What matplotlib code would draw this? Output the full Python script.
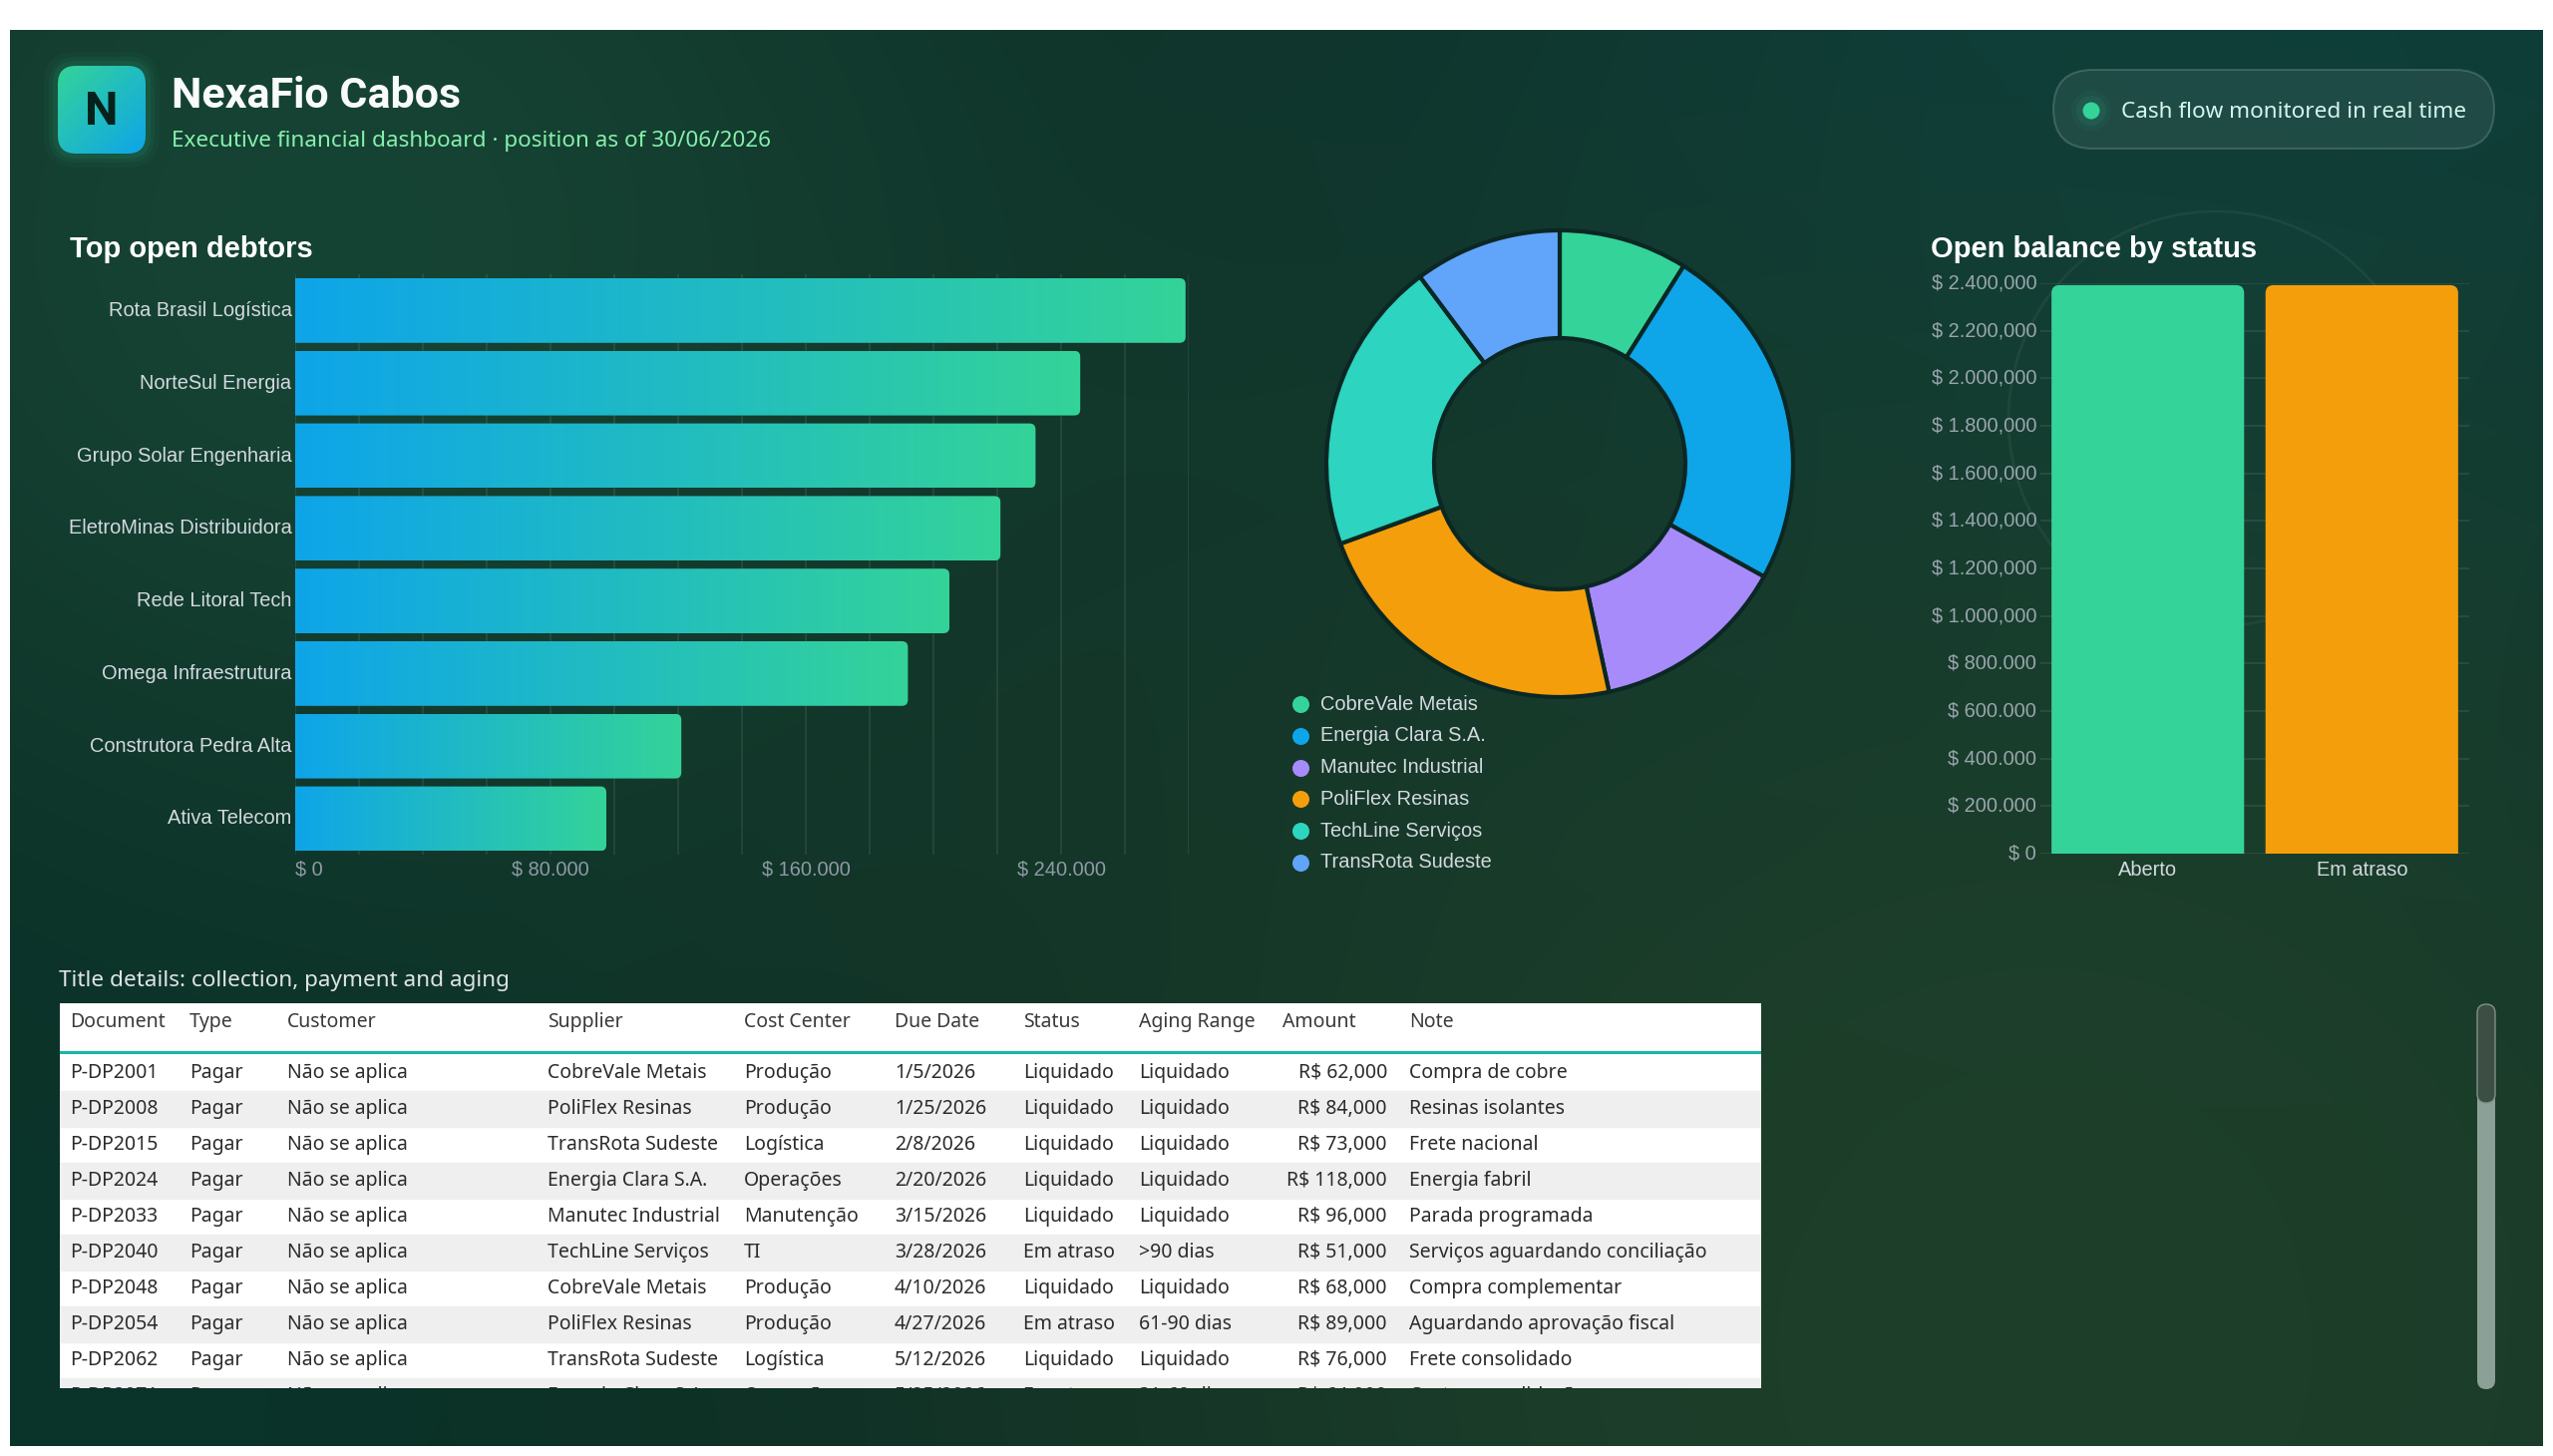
import numpy as np
import matplotlib
matplotlib.use('Agg')
import matplotlib.pyplot as plt
from matplotlib.patches import FancyBboxPatch, Circle, Rectangle
from matplotlib.colors import LinearSegmentedColormap

W, H = 2560, 1460

# ---- data ----
debtors = ['Rota Brasil Logística', 'NorteSul Energia', 'Grupo Solar Engenharia',
           'EletroMinas Distribuidora', 'Rede Litoral Tech', 'Omega Infraestrutura',
           'Construtora Pedra Alta', 'Ativa Telecom']
debtor_values = [279000, 246000, 232000, 221000, 205000, 192000, 121000, 97500]

suppliers = ['CobreVale Metais', 'Energia Clara S.A.', 'Manutec Industrial',
             'PoliFlex Resinas', 'TechLine Serviços', 'TransRota Sudeste']
supplier_totals = [130000, 352000, 198000, 333000, 297000, 149000]
supplier_colors = ['#34d399', '#0ea5e9', '#a78bfa', '#f59e0b', '#2dd4bf', '#60a5fa']

status_labels = ['Aberto', 'Em atraso']
status_values = [2392000, 2392000]
status_colors = ['#34d399', '#f59e0b']

headers = ['Document', 'Type', 'Customer', 'Supplier', 'Cost Center', 'Due Date',
           'Status', 'Aging Range', 'Amount', 'Note']
documents = ['P-DP2001', 'P-DP2008', 'P-DP2015', 'P-DP2024', 'P-DP2033',
             'P-DP2040', 'P-DP2048', 'P-DP2054', 'P-DP2062', 'P-DP2071']
types = ['Pagar'] * 10
customers = ['Não se aplica'] * 10
table_suppliers = ['CobreVale Metais', 'PoliFlex Resinas', 'TransRota Sudeste',
                   'Energia Clara S.A.', 'Manutec Industrial', 'TechLine Serviços',
                   'CobreVale Metais', 'PoliFlex Resinas', 'TransRota Sudeste',
                   'Energia Clara S.A.']
cost_centers = ['Produção', 'Produção', 'Logística', 'Operações', 'Manutenção', 'TI',
                'Produção', 'Produção', 'Logística', 'Operações']
due_dates = ['1/5/2026', '1/25/2026', '2/8/2026', '2/20/2026', '3/15/2026',
             '3/28/2026', '4/10/2026', '4/27/2026', '5/12/2026', '5/25/2026']
statuses = ['Liquidado', 'Liquidado', 'Liquidado', 'Liquidado', 'Liquidado',
            'Em atraso', 'Liquidado', 'Em atraso', 'Liquidado', 'Em atraso']
aging = ['Liquidado', 'Liquidado', 'Liquidado', 'Liquidado', 'Liquidado',
         '>90 dias', 'Liquidado', '61-90 dias', 'Liquidado', '31-60 dias']
amounts = [62000, 84000, 73000, 118000, 96000, 51000, 68000, 89000, 76000, 64000]
notes = ['Compra de cobre', 'Resinas isolantes', 'Frete nacional', 'Energia fabril',
         'Parada programada', 'Serviços aguardando conciliação', 'Compra complementar',
         'Aguardando aprovação fiscal', 'Frete consolidado', 'Custo em validação']

plt.rcParams['font.family'] = ['Liberation Sans', 'DejaVu Sans']
UI = ['Noto Sans', 'DejaVu Sans']
UI_BOLD = ['Roboto', 'DejaVu Sans']


def px2fig(x0, y0, x1, y1):
    return [x0 / W, 1 - y1 / H, (x1 - x0) / W, (y1 - y0) / H]


fig = plt.figure(figsize=(W / 100, H / 100), dpi=100, facecolor='white')
bg = fig.add_axes([0, 0, 1, 1])
bg.axis('off')

# background gradient made of soft blobs
gy, gx = np.mgrid[30:1450:6, 10:2550:6]
col = np.ones(gx.shape + (3,)) * np.array([12, 42, 34]) / 255
blobs = [((330, 260), 520, (22, 68, 52)),
         ((2250, 80), 650, (10, 62, 62)),
         ((2050, 1350), 800, (30, 64, 42)),
         ((0, 1460), 450, (10, 52, 42))]
for (cx, cy), sig, c in blobs:
    w = np.exp(-((gx - cx) ** 2 + (gy - cy) ** 2) / (2 * sig ** 2))[..., None]
    col = col * (1 - w) + np.array(c) / 255 * w
bg.imshow(col, extent=(10, 2550, 1450, 30), aspect='auto', interpolation='bicubic', zorder=0)
bg.set_xlim(0, W)
bg.set_ylim(H, 0)

bg.add_patch(Circle((2222, 420), 208, fill=False, edgecolor='white', alpha=0.05, lw=2))

# ---- header ----
for k, a in [(14, 0.04), (9, 0.06), (5, 0.08)]:
    bg.add_patch(FancyBboxPatch((58 - k, 66 - k), 88 + 2 * k, 88 + 2 * k,
                                boxstyle=f'round,pad=0,rounding_size={18 + k}',
                                facecolor=(0.2, 0.83, 0.6, a), edgecolor='none'))
logo = FancyBboxPatch((58, 66), 88, 88, boxstyle='round,pad=0,rounding_size=18',
                      facecolor='none', edgecolor='none')
bg.add_patch(logo)
lg = np.linspace(0, 1, 64)
logo_grad = (lg[None, :] + lg[:, None]) / 2
logo_cmap = LinearSegmentedColormap.from_list('logo', ['#34d399', '#0ea5e9'])
im = bg.imshow(logo_grad, cmap=logo_cmap, extent=(58, 146, 154, 66), aspect='auto',
               interpolation='bicubic', zorder=2)
im.set_clip_path(logo)
bg.text(102, 112, 'N', family=UI_BOLD, weight='bold', fontsize=34, color='#04221b',
        ha='center', va='center', zorder=3)
bg.text(172, 108, 'NexaFio Cabos', family=UI_BOLD, weight='bold', fontsize=31,
        color='#f8fafc', va='baseline')
bg.text(172, 142, 'Executive financial dashboard · position as of 30/06/2026',
        family=UI, fontsize=16.2, color='#86efac', va='center')

# status pill
bg.add_patch(FancyBboxPatch((2059, 70), 442, 79, boxstyle='round,pad=0,rounding_size=39.5',
                            facecolor=(1, 1, 1, 0.07), edgecolor=(1, 1, 1, 0.16), lw=1.5))
for rr, a in [(20, 0.05), (15, 0.08)]:
    bg.add_patch(Circle((2097, 111), rr, color=(0.2, 0.83, 0.6, a), lw=0))
bg.add_patch(Circle((2097, 111), 8.5, color='#34d399', lw=0))
bg.text(2127, 112, 'Cash flow monitored in real time', family=UI, fontsize=16.2,
        color='#d3f5ee', va='center')

# chart titles
bg.text(70, 250, 'Top open debtors', fontsize=21, weight='bold', color='white', va='center')
bg.text(1936, 250, 'Open balance by status', fontsize=21, weight='bold', color='white',
        va='center')

# ---- top debtors (horizontal gradient bars) ----
ax1 = fig.add_axes(px2fig(296, 275, 1192, 857.4))
ax1.set_facecolor('none')
ypos = np.arange(len(debtors))
bars = ax1.barh(ypos, debtor_values, height=0.89, color='none')
xmax = 280000
x_per_px = xmax / 896
y_per_px = len(debtors) / 582.4
r = 6 * x_per_px
bar_cmap = LinearSegmentedColormap.from_list('bar', ['#0ea5e9', '#34d399'])
grad = np.linspace(0, 1, 256)[None, :]
for rect in bars:
    x0, y0, w, h = rect.get_x(), rect.get_y(), rect.get_width(), rect.get_height()
    p = FancyBboxPatch((x0 - r, y0), w + r, h, boxstyle=f'round,pad=0,rounding_size={r}',
                       mutation_aspect=y_per_px / x_per_px, facecolor='none',
                       edgecolor='none')
    ax1.add_patch(p)
    gi = ax1.imshow(grad, cmap=bar_cmap, extent=(x0, x0 + w, y0 + h, y0), aspect='auto',
                    interpolation='bicubic', zorder=2)
    gi.set_clip_path(p)
ax1.set_xlim(0, xmax)
ax1.set_ylim(len(debtors) - 0.5, -0.5)
ax1.set_xticks(np.arange(0, xmax + 1, 20000))
ax1.set_xticklabels([(f'$ {v:,}'.replace(',', '.') if v % 80000 == 0 else '')
                     for v in range(0, xmax + 1, 20000)])
ax1.get_xticklabels()[0].set_horizontalalignment('left')
ax1.set_yticks(ypos, debtors, va='center')
ax1.grid(axis='x', color='white', alpha=0.08, lw=1.5)
ax1.set_axisbelow(True)
ax1.tick_params(axis='y', length=0, pad=2.5, labelsize=14.4, labelcolor='#d4d9df')
ax1.tick_params(axis='x', length=0, pad=4, labelsize=14.4, labelcolor='#8f9aa6')
for s in ax1.spines.values():
    s.set_visible(False)

# ---- supplier donut ----
ax2 = fig.add_axes(px2fig(1564 - 240, 465 - 240, 1564 + 240, 465 + 240))
ax2.pie(supplier_totals, colors=supplier_colors, radius=234 / 240, startangle=90,
        counterclock=False,
        wedgeprops=dict(width=108 / 240, edgecolor='#0b2723', linewidth=3))
ax2.set_xlim(-1, 1)
ax2.set_ylim(-1, 1)

for i, (name, c) in enumerate(zip(suppliers, supplier_colors)):
    yy = 706 + 31.8 * i
    bg.scatter([1304], [yy], s=150, color=c, zorder=3, linewidths=0)
    bg.text(1324, yy, name, fontsize=14.4, color='#d4d9df', va='center')

# ---- open balance by status ----
ax3 = fig.add_axes(px2fig(2046.4, 284, 2475.6, 856))
ax3.set_facecolor('none')
sbars = ax3.bar(range(len(status_labels)), status_values, width=0.9, color='none')
ymax = 2400000
sx_per_px = 2 / 429.2
sy_per_px = ymax / 572
rx = 8 * sx_per_px
for rect, c in zip(sbars, status_colors):
    x0, w, h = rect.get_x(), rect.get_width(), rect.get_height()
    ry = 8 * sy_per_px
    ax3.add_patch(FancyBboxPatch((x0, -ry), w, h + ry,
                                 boxstyle=f'round,pad=0,rounding_size={rx}',
                                 mutation_aspect=sy_per_px / sx_per_px,
                                 facecolor=c, edgecolor='none', zorder=2))


def status_fmt(v):
    if v == 0:
        return '$ 0'
    parts = f'{int(v):,}'.split(',')
    if len(parts) == 3:
        return f'$ {parts[0]}.{parts[1]},{parts[2]}'
    return f'$ {parts[0]}.{parts[1]}'


status_ticks = list(range(0, ymax + 1, 200000))
ax3.set_yticks(status_ticks, [status_fmt(v) for v in status_ticks], va='center')
ax3.set_xticks(range(len(status_labels)), status_labels)
ax3.set_xlim(-0.5, 1.5)
ax3.set_ylim(0, ymax)
ax3.grid(axis='y', color='white', alpha=0.08, lw=1.5)
ax3.set_axisbelow(True)
ax3.tick_params(axis='y', length=0, pad=3, labelsize=14.4, labelcolor='#9aa5ad')
ax3.tick_params(axis='x', length=0, pad=5, labelsize=14.4, labelcolor='#d4d9df')
for s in ax3.spines.values():
    s.set_visible(False)

# ---- detail table ----
bg.text(59, 983, 'Title details: collection, payment and aging', family=UI, fontsize=16.2,
        color='#dfe3e6', va='center')

axt = fig.add_axes(px2fig(60, 1006, 1766, 1392))
axt.set_xlim(60, 1766)
axt.set_ylim(1392, 1006)
axt.axis('off')
axt.add_patch(Rectangle((60, 1006), 1706, 386, color='white', zorder=0))
row0, row_h = 1057.7, 36
for i in range(len(documents)):
    if i % 2 == 1:
        axt.add_patch(Rectangle((60, row0 + row_h * i), 1706, row_h, color='#efefef', zorder=0))
axt.plot([60, 1766], [1055, 1055], color='#14b8a6', lw=2.2, zorder=1)

col_x = [70, 190, 288, 548.6, 746, 897, 1026, 1142, 1286, 1413]
for x, name in zip(col_x, headers):
    axt.text(x, 1025, name, family=UI, fontsize=14, color='#3a3a3a', va='center')

columns = [documents, types, customers, table_suppliers, cost_centers, due_dates,
           statuses, aging, [f'R$ {a:,}' for a in amounts], notes]
for j, values in enumerate(columns):
    for i, v in enumerate(values):
        yc = row0 + row_h * i + row_h / 2
        if headers[j] == 'Amount':
            axt.text(1391, yc, v, family=UI, fontsize=14, color='#2b2b2b', va='center',
                     ha='right', clip_on=True)
        else:
            axt.text(col_x[j], yc, v, family=UI, fontsize=14, color='#2b2b2b', va='center',
                     clip_on=True)

# scrollbar
bg.add_patch(FancyBboxPatch((2484, 1007), 18, 386, boxstyle='round,pad=0,rounding_size=9',
                            facecolor='#8ba096', edgecolor='none'))
bg.add_patch(FancyBboxPatch((2484, 1007), 18, 99, boxstyle='round,pad=0,rounding_size=9',
                            facecolor='#3d4f45', edgecolor='#7d9288', lw=1))

fig.savefig('out.png', dpi=100, facecolor='white')
